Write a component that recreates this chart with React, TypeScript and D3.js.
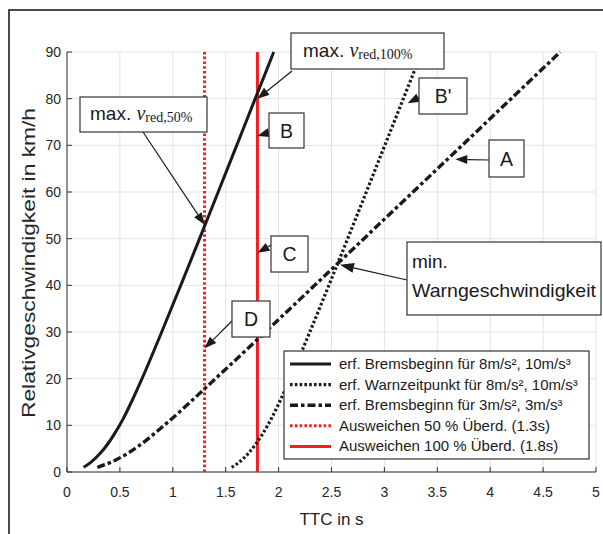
import React from 'react';
import * as d3 from 'd3';

// ---------- data ----------
const xTicks = [0, 0.5, 1, 1.5, 2, 2.5, 3, 3.5, 4, 4.5, 5];
const xTickLabels = ['0', '0.5', '1', '1.5', '2', '2.5', '3', '3.5', '4', '4.5', '5'];
const yTicks = [0, 10, 20, 30, 40, 50, 60, 70, 80, 90];
const yTickLabels = ['0', '10', '20', '30', '40', '50', '60', '70', '80', '90'];

// erf. Bremsbeginn für 8m/s², 10m/s³  (speed km/h -> TTC s)
const brake8Speed = [1, 2, 4, 6, 8, 10, 11.5, 15, 20, 30, 40, 50, 60, 70, 80, 90];
const brake8TTC = [0.157, 0.222, 0.314, 0.385, 0.444, 0.497, 0.533, 0.609, 0.709, 0.895, 1.075, 1.253, 1.429, 1.604, 1.779, 1.954];

// erf. Warnzeitpunkt für 8m/s², 10m/s³
const warnSpeed = [1, 2, 4, 6, 8, 10, 11.5, 15, 20, 30, 40, 50, 60, 70, 80, 90];
const warnTTC = [1.557, 1.622, 1.714, 1.785, 1.844, 1.897, 1.933, 2.009, 2.109, 2.295, 2.475, 2.653, 2.829, 3.004, 3.179, 3.354];

// erf. Bremsbeginn für 3m/s², 3m/s³
const brake3Speed = [1, 2, 4, 5.4, 10, 20, 30, 40, 50, 60, 70, 80, 90];
const brake3TTC = [0.287, 0.406, 0.574, 0.667, 0.918, 1.403, 1.874, 2.341, 2.806, 3.27, 3.735, 4.198, 4.662];

const evade50 = 1.3;
const evade100 = 1.8;

const legendLabels = [
  'erf. Bremsbeginn für 8m/s², 10m/s³',
  'erf. Warnzeitpunkt für 8m/s², 10m/s³',
  'erf. Bremsbeginn für 3m/s², 3m/s³',
  'Ausweichen 50 % Überd. (1.3s)',
  'Ausweichen 100 % Überd. (1.8s)',
];

// annotation targets in data coordinates
const targetMax100 = [1.8, 80];
const targetMax50 = [1.3, 53];
const targetB = [1.8, 72];
const targetC = [1.8, 47];
const targetD = [1.3, 26.5];
const targetBp = [3.22, 79];
const targetA = [3.67, 67];
const targetMin = [2.58, 44.4];

// ---------- styling ----------
const SANS = '"Liberation Sans", Arial, Helvetica, sans-serif';
const SERIF = '"Liberation Serif", "Times New Roman", serif';
const RED = '#ee2024';
const INK = '#1a1a1a';

const W = 603;
const H = 534;

const x = d3.scaleLinear().domain([0, 5]).range([67, 596]);
const y = d3.scaleLinear().domain([0, 90]).range([472, 52]);

const lineGen = d3
  .line<[number, number]>()
  .x((d) => x(d[0]))
  .y((d) => y(d[1]))
  .curve(d3.curveMonotoneX);

function zipXY(ttc: number[], v: number[]): [number, number][] {
  return ttc.map((t, i) => [t, v[i]] as [number, number]);
}

const series = [
  { pts: zipXY(brake8TTC, brake8Speed), dash: null as string | null, color: INK, w: 3 },
  { pts: zipXY(warnTTC, warnSpeed), dash: '2.6,2.2', color: INK, w: 3.2 },
  { pts: zipXY(brake3TTC, brake3Speed), dash: '8,3,3.5,3', color: INK, w: 3.4 },
];

function Arrow({ x1, y1, x2, y2, head = 12, half = 4.5 }: { x1: number; y1: number; x2: number; y2: number; head?: number; half?: number }) {
  const dx = x2 - x1;
  const dy = y2 - y1;
  const len = Math.sqrt(dx * dx + dy * dy);
  const ux = dx / len;
  const uy = dy / len;
  const bx = x2 - ux * head;
  const by = y2 - uy * head;
  const px = -uy * half;
  const py = ux * half;
  return (
    <g>
      {len > head && <line x1={x1} y1={y1} x2={bx} y2={by} stroke={INK} strokeWidth={1.2} />}
      <polygon points={`${x2},${y2} ${bx + px},${by + py} ${bx - px},${by - py}`} fill={INK} />
    </g>
  );
}

function Box({ x0, y0, w, h }: { x0: number; y0: number; w: number; h: number }) {
  return <rect x={x0} y={y0} width={w} height={h} fill="#fff" stroke="#333" strokeWidth={1.2} />;
}

function LetterBox({ x0, y0, w, h, label, target, from }: { x0: number; y0: number; w: number; h: number; label: string; target: number[]; from: [number, number] }) {
  return (
    <g>
      <Arrow x1={from[0]} y1={from[1]} x2={x(target[0])} y2={y(target[1])} />
      <Box x0={x0} y0={y0} w={w} h={h} />
      <text x={x0 + w / 2} y={y0 + h / 2 + 7} textAnchor="middle" fontFamily={SANS} fontSize={19.5} fill={INK}>
        {label}
      </text>
    </g>
  );
}

export default function App() {
  const plotL = x(0);
  const plotR = x(5);
  const plotT = y(90);
  const plotB = y(0);

  const legendRows = [
    { color: INK, dash: null as string | null, w: 3 },
    { color: INK, dash: '2.6,2.2', w: 3.2 },
    { color: INK, dash: '8,3,3.5,3', w: 3.4 },
    { color: RED, dash: '2.6,2.2', w: 3 },
    { color: RED, dash: null as string | null, w: 3 },
  ];

  return (
    <svg width={W} height={H} style={{ position: 'absolute', left: 0, top: 0, background: '#fff' }}>
      <rect x={0} y={0} width={W} height={H} fill="#fff" />
      {/* outer frame */}
      <rect x={9} y={10} width={700} height={700} fill="none" stroke="#111" strokeWidth={1.5} />

      {/* grid */}
      <g stroke="#e3e3e3" strokeWidth={1}>
        {xTicks.map((t) => (
          <line key={'gx' + t} x1={x(t)} x2={x(t)} y1={plotT} y2={plotB} />
        ))}
        {yTicks.map((t) => (
          <line key={'gy' + t} x1={plotL} x2={plotR} y1={y(t)} y2={y(t)} />
        ))}
      </g>

      {/* axes */}
      <g stroke="#333" strokeWidth={1}>
        <line x1={plotL} x2={plotR} y1={plotB} y2={plotB} />
        <line x1={plotL} x2={plotL} y1={plotT} y2={plotB} />
        {xTicks.map((t) => (
          <line key={'tx' + t} x1={x(t)} x2={x(t)} y1={plotB} y2={plotB - 5} />
        ))}
        {yTicks.map((t) => (
          <line key={'ty' + t} x1={plotL} x2={plotL + 5} y1={y(t)} y2={y(t)} />
        ))}
      </g>
      <g fontFamily={SANS} fontSize={14} fill="#262626">
        {xTicks.map((t, i) => (
          <text key={'lx' + t} x={x(t)} y={plotB + 25} textAnchor="middle">
            {xTickLabels[i]}
          </text>
        ))}
        {yTicks.map((t, i) => (
          <text key={'ly' + t} x={plotL - 6} y={y(t) + 5} textAnchor="end">
            {yTickLabels[i]}
          </text>
        ))}
      </g>
      <text x={(plotL + plotR) / 2} y={525} textAnchor="middle" fontFamily={SANS} fontSize={17} fill="#262626">
        TTC in s
      </text>
      <text
        transform={`translate(35, 263) rotate(-90)`}
        x={-155}
        y={0}
        textLength={310}
        lengthAdjust="spacingAndGlyphs"
        fontFamily={SANS}
        fontSize={18}
        fill="#262626"
      >
        Relativgeschwindigkeit in km/h
      </text>

      {/* red vertical lines */}
      <line x1={x(evade50)} x2={x(evade50)} y1={y(0)} y2={y(90)} stroke={RED} strokeWidth={3} strokeDasharray="2.6,2.2" />
      <line x1={x(evade100)} x2={x(evade100)} y1={y(0)} y2={y(90)} stroke={RED} strokeWidth={3} />

      {/* curves */}
      {series.map((s, i) => (
        <path
          key={'s' + i}
          d={lineGen(s.pts) || ''}
          fill="none"
          stroke={s.color}
          strokeWidth={s.w}
          strokeDasharray={s.dash || undefined}
        />
      ))}

      {/* annotations */}
      <g>
        <Arrow x1={292} y1={71} x2={x(targetMax100[0])} y2={y(targetMax100[1])} />
        <Box x0={291} y0={33} w={153} h={36} />
        <text x={303} y={57} fill={INK}>
          <tspan fontFamily={SANS} fontSize={19}>max. </tspan>
          <tspan fontFamily={SERIF} fontStyle="italic" fontSize={20}>v</tspan>
          <tspan fontFamily={SERIF} fontSize={14} dy={2}>red,100%</tspan>
        </text>

        <Arrow x1={143} y1={132} x2={x(targetMax50[0])} y2={y(targetMax50[1])} />
        <Box x0={80} y0={97} w={127} h={35} />
        <text x={90} y={120} fill={INK}>
          <tspan fontFamily={SANS} fontSize={19}>max. </tspan>
          <tspan fontFamily={SERIF} fontStyle="italic" fontSize={20}>v</tspan>
          <tspan fontFamily={SERIF} fontSize={14} dy={2}>red,50%</tspan>
        </text>

        <LetterBox x0={269} y0={113} w={35} h={35} label="B" target={targetB} from={[271, 132]} />
        <LetterBox x0={271} y0={236} w={37} h={36} label="C" target={targetC} from={[273, 244]} />
        <LetterBox x0={232} y0={301} w={38} h={36} label="D" target={targetD} from={[233, 320]} />
        <LetterBox x0={419} y0={78} w={48} h={36} label="B'" target={targetBp} from={[420, 97]} />
        <LetterBox x0={489} y0={140} w={35} h={37} label="A" target={targetA} from={[489, 160]} />

        <Arrow x1={407} y1={280} x2={x(targetMin[0])} y2={y(targetMin[1])} head={14} half={5} />
        <Box x0={407} y0={242} w={194} h={73} />
        <text x={412} y={268} fontFamily={SANS} fontSize={19} fill={INK}>
          min.
        </text>
        <text x={412} y={297} fontFamily={SANS} fontSize={19} textLength={184} lengthAdjust="spacingAndGlyphs" fill={INK}>
          Warngeschwindigkeit
        </text>
      </g>

      {/* legend */}
      <g>
        <rect x={284} y={351} width={305} height={108} fill="#fff" stroke="#333" strokeWidth={1.2} />
        {legendLabels.map((lab, i) => {
          const ry = 364 + i * 20.6;
          const r = legendRows[i];
          return (
            <g key={'lg' + i}>
              <line x1={290} x2={331} y1={ry} y2={ry} stroke={r.color} strokeWidth={r.w} strokeDasharray={r.dash || undefined} />
              <text x={339} y={ry + 5} fontFamily={SANS} fontSize={15} fill={INK}>
                {lab}
              </text>
            </g>
          );
        })}
      </g>
    </svg>
  );
}
